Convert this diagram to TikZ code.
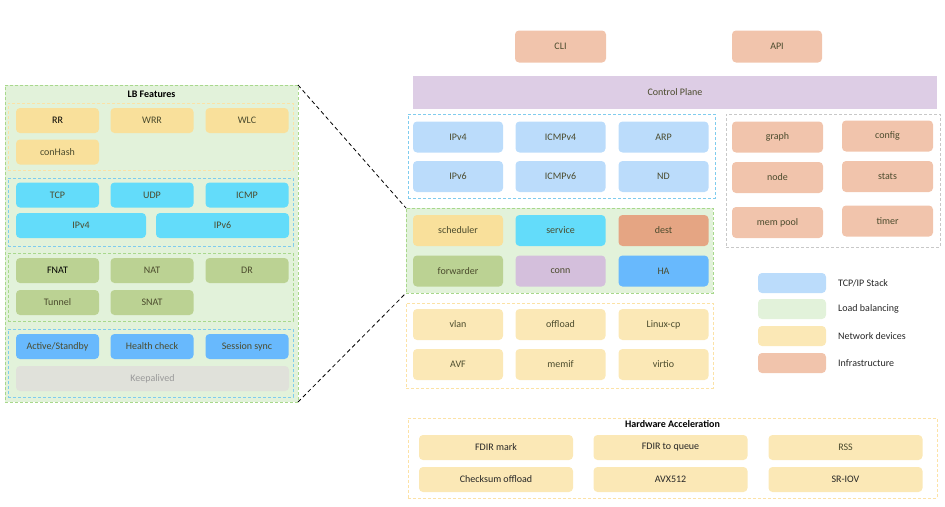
\documentclass[tikz,border=0pt]{standalone}
\usepackage{fontspec}
\setmainfont{Carlito}
\begin{document}
\definecolor{txt}{RGB}{75,75,45}
\definecolor{lbfill}{HTML}{E2F2DA}
\definecolor{gborder}{HTML}{A8D88C}
\definecolor{yborder}{HTML}{FCE2A6}
\definecolor{bborder}{HTML}{7FCCEE}
\definecolor{grborder}{HTML}{C8C8C8}
\definecolor{cyan1}{HTML}{63DCFA}
\definecolor{yel1}{HTML}{F9E09B}
\definecolor{yel2}{HTML}{FBE8B6}
\definecolor{grn1}{HTML}{BBD293}
\definecolor{blu1}{HTML}{68B9FD}
\definecolor{blu2}{HTML}{BBDCFB}
\definecolor{gray1}{HTML}{E0E1DA}
\definecolor{peach}{HTML}{F1C4AC}
\definecolor{salmon}{HTML}{E5A583}
\definecolor{lav}{HTML}{D4BFDC}
\definecolor{cpfill}{HTML}{DDCDE5}
\tikzset{
  nd/.style={rectangle, rounded corners=4pt, inner sep=0pt, outer sep=0pt,
    text=txt, font=\fontsize{10}{12}\selectfont},
  dbox/.style={rectangle, dashed, dash pattern=on 3pt off 2pt, line width=0.8pt,
    inner sep=0pt, outer sep=0pt},
  zoomline/.style={draw=black, dashed, dash pattern=on 4pt off 3pt, line width=0.8pt},
  legtxt/.style={anchor=west, inner sep=0pt, text=black!85, font=\fontsize{10}{12}\selectfont},
}
\begin{tikzpicture}[x=1pt,y=-1pt]
\useasboundingbox (0,0) rectangle (945,506);
% ---------- left panel: LB Features ----------
\node[dbox, draw=gborder, fill=lbfill, minimum width=293pt, minimum height=317pt] (lbouter) at (151.5,243.5) {};
\node[font=\fontsize{10}{12}\selectfont\bfseries, text=black] (lbtitle) at (151.5,94) {LB Features};
\node[dbox, draw=yborder, minimum width=285pt, minimum height=67pt] (schedbox) at (150.5,136.5) {};
\node[dbox, draw=bborder, minimum width=285pt, minimum height=68pt] (protobox) at (150.5,212) {};
\node[dbox, draw=gborder, minimum width=285pt, minimum height=68pt] (natbox) at (150.5,287) {};
\node[dbox, draw=bborder, minimum width=285pt, minimum height=68pt] (habox) at (150.5,363) {};

\tikzset{lw/.style={nd, minimum width=83pt, minimum height=25pt}}
\node[lw, fill=yel1, text=black] (rr) at (57.5,120.5) {RR};
\node[lw, fill=yel1] (wrr) at (152,120.5) {WRR};
\node[lw, fill=yel1] (wlc) at (247,120.5) {WLC};
\node[lw, fill=yel1] (conhash) at (57.5,152) {conHash};
\node[lw, fill=cyan1] (tcp) at (57.5,195) {TCP};
\node[lw, fill=cyan1] (udp) at (152,195) {UDP};
\node[lw, fill=cyan1] (icmp) at (247,195) {ICMP};
\node[nd, fill=cyan1, minimum width=130pt, minimum height=25pt] (lipv4) at (81,225.5) {IPv4};
\node[nd, fill=cyan1, minimum width=133pt, minimum height=25pt] (lipv6) at (222.5,225.5) {IPv6};
\node[lw, fill=grn1, text=black] (fnat) at (57.5,270.5) {FNAT};
\node[lw, fill=grn1] (nat) at (152,270.5) {NAT};
\node[lw, fill=grn1] (dr) at (247,270.5) {DR};
\node[lw, fill=grn1] (tunnel) at (57.5,302.5) {Tunnel};
\node[lw, fill=grn1] (snat) at (152,302.5) {SNAT};
\node[lw, fill=blu1] (active) at (57.5,346.5) {Active/Standby};
\node[lw, fill=blu1] (health) at (152,346.5) {Health check};
\node[lw, fill=blu1] (session) at (247,346.5) {Session sync};
\node[nd, fill=gray1, text=black!40, minimum width=273pt, minimum height=25pt] (keep) at (152.5,378.5) {Keepalived};

% ---------- right: control plane ----------
\node[nd, fill=peach, minimum width=91pt, minimum height=32pt] (cli) at (560.5,46.5) {CLI};
\node[nd, fill=peach, minimum width=90pt, minimum height=32pt] (api) at (777,46.5) {API};
\node[nd, rounded corners=0pt, fill=cpfill, minimum width=524pt, minimum height=33pt] (cp) at (675,92.5) {Control Plane};

% ---------- TCP/IP stack ----------
\node[dbox, draw=bborder, minimum width=307pt, minimum height=84pt] (tcpipbox) at (561.5,156) {};
\tikzset{rw/.style={nd, minimum width=90pt, minimum height=31pt}}
\node[rw, fill=blu2] (ipv4) at (458,137) {IPv4};
\node[rw, fill=blu2] (icmpv4) at (560.5,137) {ICMPv4};
\node[rw, fill=blu2] (arp) at (663.5,137) {ARP};
\node[rw, fill=blu2] (ipv6) at (458,176.5) {IPv6};
\node[rw, fill=blu2] (icmpv6) at (560.5,176.5) {ICMPv6};
\node[rw, fill=blu2] (nd) at (663.5,176.5) {ND};

% ---------- Load balancing ----------
\node[dbox, draw=gborder, fill=lbfill, minimum width=307pt, minimum height=85pt] (lbbox) at (559.5,250.5) {};
\node[rw, fill=yel1] (sched) at (458,230.5) {scheduler};
\node[rw, fill=cyan1] (service) at (560.5,230.5) {service};
\node[rw, fill=salmon] (dest) at (663.5,230.5) {dest};
\node[rw, fill=grn1] (fwd) at (458,271) {forwarder};
\node[rw, fill=lav] (conn) at (560.5,271) {conn};
\node[rw, fill=blu1] (ha) at (663.5,271) {HA};

% ---------- Network devices ----------
\node[dbox, draw=yborder, minimum width=307pt, minimum height=85pt] (netbox) at (559.5,345.5) {};
\node[rw, fill=yel2] (vlan) at (458,324.5) {vlan};
\node[rw, fill=yel2] (offload) at (560.5,324.5) {offload};
\node[rw, fill=yel2] (linuxcp) at (663.5,324.5) {Linux-cp};
\node[rw, fill=yel2] (avf) at (458,364.5) {AVF};
\node[rw, fill=yel2] (memif) at (560.5,364.5) {memif};
\node[rw, fill=yel2] (virtio) at (663.5,364.5) {virtio};

% ---------- Infrastructure ----------
\node[dbox, draw=grborder, minimum width=214pt, minimum height=133pt] (infbox) at (833,180.5) {};
\tikzset{iw/.style={nd, fill=peach, minimum width=91pt, minimum height=31pt}}
\node[iw] (graph) at (777.5,137) {graph};
\node[iw] (config) at (887.5,136) {config};
\node[iw] (node) at (777.5,177.5) {node};
\node[iw] (stats) at (887.5,176.5) {stats};
\node[iw] (mempool) at (777.5,222.5) {mem pool};
\node[iw] (timer) at (887.5,221) {timer};

% ---------- Legend ----------
\tikzset{sw/.style={nd, minimum width=68pt, minimum height=20pt}}
\node[sw, fill=blu2] (sw1) at (792,283) {};
\node[sw, fill=lbfill] (sw2) at (792,309) {};
\node[sw, fill=yel2] (sw3) at (792,336) {};
\node[sw, fill=peach] (sw4) at (792,363) {};
\node[legtxt] (l1) at (838,283) {TCP/IP Stack};
\node[legtxt] (l2) at (838,309) {Load balancing};
\node[legtxt] (l3) at (838,336) {Network devices};
\node[legtxt] (l4) at (838,363) {Infrastructure};

% ---------- Hardware Acceleration ----------
\node[dbox, draw=yborder, minimum width=529pt, minimum height=80pt] (hwbox) at (672.5,458) {};
\node[font=\fontsize{10}{12}\selectfont\bfseries, text=black] (hwtitle) at (672.5,424) {Hardware Acceleration};
\tikzset{hw/.style={nd, fill=yel2, text=black!85, minimum width=154pt, minimum height=25pt}}
\node[hw] (fdirmark) at (496,447.5) {FDIR mark};
\node[hw] (fdirq) at (670.5,447.5) {FDIR to queue};
\node[hw, text=txt] (rss) at (845.5,447.5) {RSS};
\node[hw] (csum) at (496,479.5) {Checksum offload};
\node[hw] (avx) at (670.5,479.5) {AVX512};
\node[hw] (sriov) at (845.5,479.5) {SR-IOV};

% ---------- zoom lines ----------
\draw[zoomline] (lbouter.north east) -- (lbbox.north west);
\draw[zoomline] (lbouter.south east) -- (lbbox.south west);
\end{tikzpicture}
\end{document}
